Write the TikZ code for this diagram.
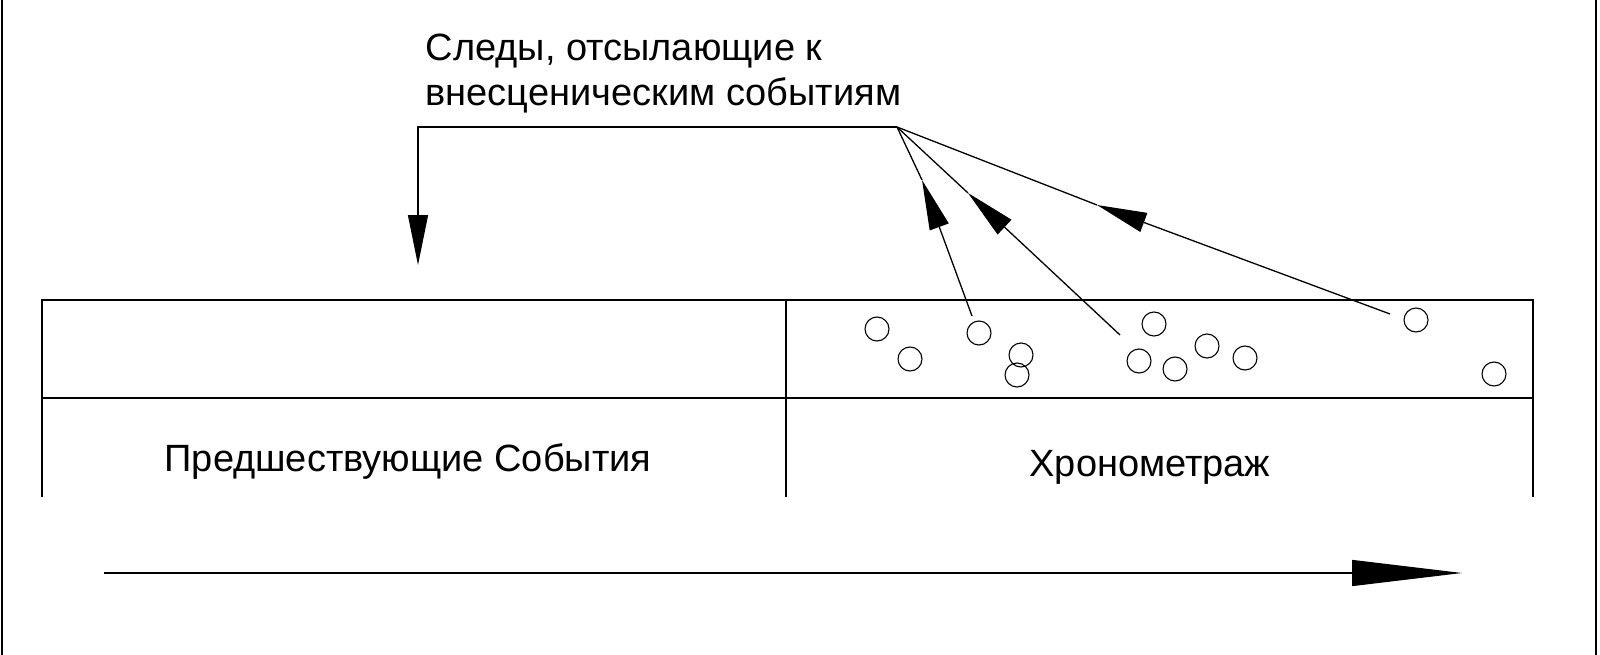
\documentclass[tikz,border=0pt]{standalone}
\usepackage{fontspec}
\setmainfont{Liberation Sans}
\usetikzlibrary{arrows.meta}
\begin{document}
\begin{tikzpicture}[x=1pt,y=-1pt,line width=1.3pt,
  dot/.style={circle,draw,minimum size=24pt,inner sep=0pt,line width=1.1pt},
  lbl/.style={font=\fontsize{38}{45}\selectfont,inner sep=0pt},
  bigtip/.style={-{Triangle[length=50pt,width=20pt]}}]
\draw (2,0) -- (2,655);
\draw (1596,0) -- (1596,655);
% table
\draw (42,497) -- (42,300) -- (1533,300) -- (1533,497);
\draw (42,398) -- (1533,398);
\draw (786,300) -- (786,497);
\node[lbl] (pre) at (408,462) {Предшествующие События};
\node[lbl] (chr) at (1150,467) {Хронометраж};
\node[lbl,anchor=north west,align=left] (title) at (425,33) {Следы, отсылающие к\\внесценическим событиям};
% circles
\foreach \n/\px/\py in {c1/877/329,c2/910/359,c3/979/333,c4/1021/355,c5/1017/375,c6/1154/324,c7/1139/361,c8/1175/369,c9/1207/346,c10/1245/358,c11/1416/320,c12/1494/374}
  \node[dot] (\n) at (\px,\py) {};
% connectors
\coordinate (apex) at (897,127);
\coordinate (down) at (418,265);
\draw[bigtip] (apex) -- (418,127) -- (down);
\coordinate (s1) at (972,316); \coordinate (t1) at (922,180);
\coordinate (s2) at (1120,335); \coordinate (t2) at (968,193);
\coordinate (s3) at (1390,314); \coordinate (t3) at (1097,205);
\foreach \i in {1,2,3}{
  \draw[bigtip] (s\i) -- (t\i);
  \draw (t\i) -- (apex);
}
% time axis
\coordinate (a0) at (104,573);
\coordinate (a1) at (1462,573);
\draw[-{Triangle[length=110pt,width=26pt]}] (a0) -- (a1);
\pgfresetboundingbox
\path[use as bounding box] (0,0) rectangle (1600,655);
\end{tikzpicture}
\end{document}
